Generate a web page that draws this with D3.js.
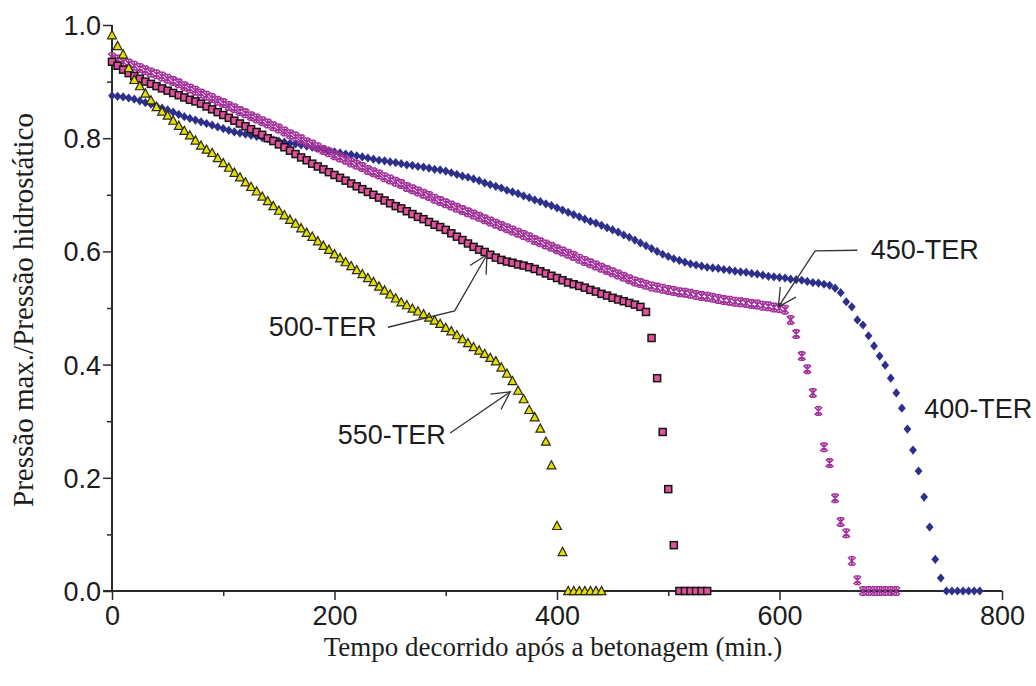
<!DOCTYPE html>
<html>
<head>
<meta charset="utf-8">
<script src="https://cdn.jsdelivr.net/npm/d3@7"></script>
<style>
  html, body { margin: 0; padding: 0; background: #fff; }
  svg { display: block; }
</style>
</head>
<body>
<svg id="chart" width="1036" height="686"></svg>
<script>
// ---------- data ----------
const timeStep = 5; // minutes between readings
const seriesNames = ["400-TER", "450-TER", "500-TER", "550-TER"];

const v400 = [
  .875,.874,.873,.871,.869,.866,.863,.860,.857,.853,
  .850,.846,.842,.838,.835,.832,.829,.826,.823,.820,
  .817,.814,.811,.809,.807,.805,.803,.801,.799,.797,
  .795,.793,.791,.790,.788,.786,.784,.782,.780,.778,
  .776,.774,.772,.771,.769,.767,.765,.763,.761,.760,
  .758,.757,.755,.753,.752,.750,.749,.747,.745,.744,
  .742,.739,.736,.733,.731,.728,.725,.721,.718,.715,
  .712,.708,.705,.702,.698,.695,.691,.688,.684,.681,
  .677,.673,.669,.665,.661,.657,.653,.650,.646,.642,
  .638,.634,.629,.625,.620,.615,.610,.605,.600,.595,
  .591,.587,.584,.581,.578,.576,.574,.572,.571,.570,
  .568,.567,.565,.564,.563,.561,.560,.558,.556,.555,
  .554,.553,.551,.550,.549,.547,.545,.544,.542,.540,
  .535,.527,.511,.502,.479,.470,.451,.433,.415,.399,
  .376,.350,.323,.286,.249,.212,.166,.113,.056,.023,
  0,0,0,0,0,0,0
];

const v450 = [
  .943,.939,.935,.932,.928,.924,.920,.916,.913,.909,
  .905,.901,.897,.892,.888,.884,.879,.875,.871,.866,
  .862,.857,.853,.848,.844,.839,.835,.830,.826,.821,
  .817,.812,.807,.803,.798,.793,.789,.784,.779,.775,
  .770,.766,.762,.757,.753,.749,.744,.740,.736,.731,
  .727,.723,.719,.714,.710,.706,.702,.698,.693,.689,
  .685,.681,.677,.673,.669,.665,.661,.657,.653,.649,
  .645,.641,.637,.633,.629,.625,.620,.616,.612,.608,
  .604,.600,.596,.592,.587,.583,.579,.575,.571,.567,
  .563,.559,.555,.551,.547,.544,.541,.538,.536,.534,
  .532,.530,.528,.527,.525,.523,.521,.520,.518,.516,
  .514,.513,.511,.510,.509,.507,.506,.504,.503,.501,
  .500,.497,
  .479,.454,.415,.392,.350,.318,.254,.226,.164,.122,.102,.053,.019,
  0,0,0,0,0,0,0
];

const v500 = [
  .935,.928,.921,.915,.910,.905,.900,.896,.892,.888,
  .884,.880,.876,.872,.868,.865,.861,.856,.851,.846,
  .841,.836,.831,.826,.821,.816,.811,.806,.800,.795,
  .789,.784,.778,.772,.766,.761,.755,.750,.745,.740,
  .735,.730,.725,.720,.715,.710,.705,.700,.695,.690,
  .685,.680,.676,.671,.666,.661,.657,.652,.647,.643,
  .638,.632,.626,.620,.614,.608,.603,.599,.594,.589,
  .585,.582,.580,.577,.575,.572,.569,.565,.561,.557,
  .553,.549,.545,.542,.539,.536,.532,.529,.525,.522,
  .518,.515,.512,.509,.506,.502,.493,
  .447,.376,.281,.180,.081,
  0,0,0,0,0,0
];

const v550 = [
  .982,.963,.948,.924,.903,.892,.879,.867,.855,.847,
  .840,.831,.822,.813,.805,.796,.787,.780,.774,.765,
  .756,.748,.739,.731,.722,.714,.706,.697,.689,.680,
  .672,.664,.656,.649,.641,.633,.626,.618,.610,.603,
  .595,.588,.581,.574,.567,.560,.553,.546,.538,.531,
  .524,.517,.510,.505,.499,.494,.489,.483,.478,.472,
  .465,.459,.452,.445,.438,.431,.425,.419,.412,.406,
  .395,.384,.371,.354,.339,.320,.307,.287,.264,.222,
  .115,.069,
  0,0,0,0,0,0,0
];

const xTicks = [0, 200, 400, 600, 800];
const xMinorTicks = [100, 300, 500, 700];
const yTicks = [0, 0.2, 0.4, 0.6, 0.8, 1.0];
const yMinorTicks = [0.1, 0.3, 0.5, 0.7, 0.9];

// annotations in data units: label anchor, arrow path (label end -> tip)
const annText = ["500-TER", "550-TER", "450-TER", "400-TER"];
const annLabelT = [238, 300, 682, 730];
const annLabelV = [0.468, 0.276, 0.604, 0.323];
const annAnchor = ["end", "end", "start", "start"];
const annPathT = [[248, 308, 337], [304, 358], [670, 632, 599], []];
const annPathV = [[0.466, 0.495, 0.594], [0.279, 0.352], [0.602, 0.601, 0.502], []];

// ---------- layout ----------
const svg = d3.select("#chart");
const x = d3.scaleLinear().domain([0, 800]).range([112, 1002]);
const y = d3.scaleLinear().domain([0, 1]).range([591, 25]);

const sans = "'Liberation Sans', Arial, sans-serif";
const serif = "'Liberation Serif', 'Times New Roman', serif";
const textColor = "#1c1c1c";
const axisColor = "#2a2a2a";

// ---------- axes ----------
const xAxis = d3.axisBottom(x).tickValues(xTicks).tickSize(9).tickFormat(d3.format("d"));
const gx = svg.append("g").attr("transform", "translate(0,591)").call(xAxis);
gx.select(".domain").attr("d", `M${x(0) - 9},0H${x(800)}`).attr("stroke", axisColor).attr("stroke-width", 2);
gx.selectAll(".tick line").attr("stroke", axisColor).attr("stroke-width", 1.5);
gx.selectAll(".tick text").attr("font-family", sans).attr("font-size", 27).attr("fill", textColor).attr("dy", "0").attr("y", 34);
svg.append("g").attr("transform", "translate(0,591)").call(
  d3.axisBottom(x).tickValues(xMinorTicks).tickSize(5).tickFormat("")
).call(g => { g.select(".domain").remove(); g.selectAll("line").attr("stroke", axisColor).attr("stroke-width", 1.5); });

const yAxis = d3.axisLeft(y).tickValues(yTicks).tickSize(9).tickFormat(d3.format(".1f"));
const gy = svg.append("g").attr("transform", "translate(112,0)").call(yAxis);
gy.select(".domain").attr("d", `M0,${y(1)}V${y(0)}`).attr("stroke", axisColor).attr("stroke-width", 2);
gy.selectAll(".tick line").attr("stroke", axisColor).attr("stroke-width", 1.5);
gy.selectAll(".tick text").attr("font-family", sans).attr("font-size", 27).attr("fill", textColor).attr("x", -11).attr("dy", "0.35em");
svg.append("g").attr("transform", "translate(112,0)").call(
  d3.axisLeft(y).tickValues(yMinorTicks).tickSize(5).tickFormat("")
).call(g => { g.select(".domain").remove(); g.selectAll("line").attr("stroke", axisColor).attr("stroke-width", 1.5); });

// axis titles
svg.append("text").attr("x", 553).attr("y", 656).attr("text-anchor", "middle")
  .attr("font-family", serif).attr("font-size", 27).attr("fill", textColor)
  .text("Tempo decorrido após a betonagem (min.)");
svg.append("text").attr("transform", "translate(33,310) rotate(-90)").attr("text-anchor", "middle")
  .attr("font-family", serif).attr("font-size", 29).attr("fill", textColor)
  .text("Pressão max./Pressão hidrostático");

// ---------- series ----------
const toPts = arr => arr.map((v, i) => ({ t: i * timeStep, v }));

// 400-TER: navy diamonds
svg.append("g").selectAll("path").data(toPts(v400)).join("path")
  .attr("transform", d => `translate(${x(d.t)},${y(d.v)})`)
  .attr("d", "M0,-4.6L3.9,0L0,4.6L-3.9,0Z")
  .attr("fill", "#2d2f8a");

// 450-TER: magenta asterisks
svg.append("g").selectAll("path").data(toPts(v450)).join("path")
  .attr("transform", d => `translate(${x(d.t)},${y(d.v)})`)
  .attr("d", "M-3.8,-3.8L3.8,3.8M-3.8,3.8L3.8,-3.8M0,-4.4V4.4M-2.6,-4.2L2.6,-4.2M-2.6,4.2L2.6,4.2")
  .attr("fill", "none").attr("stroke", "#a2339a").attr("stroke-width", 1.6);

// 500-TER: pink squares
svg.append("g").selectAll("rect").data(toPts(v500)).join("rect")
  .attr("x", d => x(d.t) - 3.5).attr("y", d => y(d.v) - 3.5)
  .attr("width", 7).attr("height", 7)
  .attr("fill", "#e2519b").attr("stroke", "#151515").attr("stroke-width", 1.5);

// 550-TER: yellow triangles
svg.append("g").selectAll("path").data(toPts(v550)).join("path")
  .attr("transform", d => `translate(${x(d.t)},${y(d.v)})`)
  .attr("d", "M0,-4.6L4.4,3.6L-4.4,3.6Z")
  .attr("fill", "#e4df00").attr("stroke", "#2a2a10").attr("stroke-width", 1.2);

// ---------- annotations ----------
annText.forEach((txt, k) => {
  svg.append("text").attr("x", x(annLabelT[k])).attr("y", y(annLabelV[k]))
    .attr("dy", "0.35em").attr("text-anchor", annAnchor[k])
    .attr("font-family", sans).attr("font-size", 27).attr("fill", textColor).text(txt);
  const pts = annPathT[k].map((t, j) => [x(t), y(annPathV[k][j])]);
  if (pts.length < 2) return;
  svg.append("path").attr("d", d3.line()(pts)).attr("fill", "none")
    .attr("stroke", "#333").attr("stroke-width", 1.3);
  const [px, py] = pts[pts.length - 2];
  const [tx, ty] = pts[pts.length - 1];
  const ang = Math.atan2(py - ty, px - tx);
  const L = 20, a = Math.PI / 6.5;
  const b1 = [tx + L * Math.cos(ang + a), ty + L * Math.sin(ang + a)];
  const b2 = [tx + L * Math.cos(ang - a), ty + L * Math.sin(ang - a)];
  svg.append("path").attr("d", `M${b1[0]},${b1[1]}L${tx},${ty}L${b2[0]},${b2[1]}`)
    .attr("fill", "none").attr("stroke", "#333").attr("stroke-width", 1.3);
});
</script>
</body>
</html>
